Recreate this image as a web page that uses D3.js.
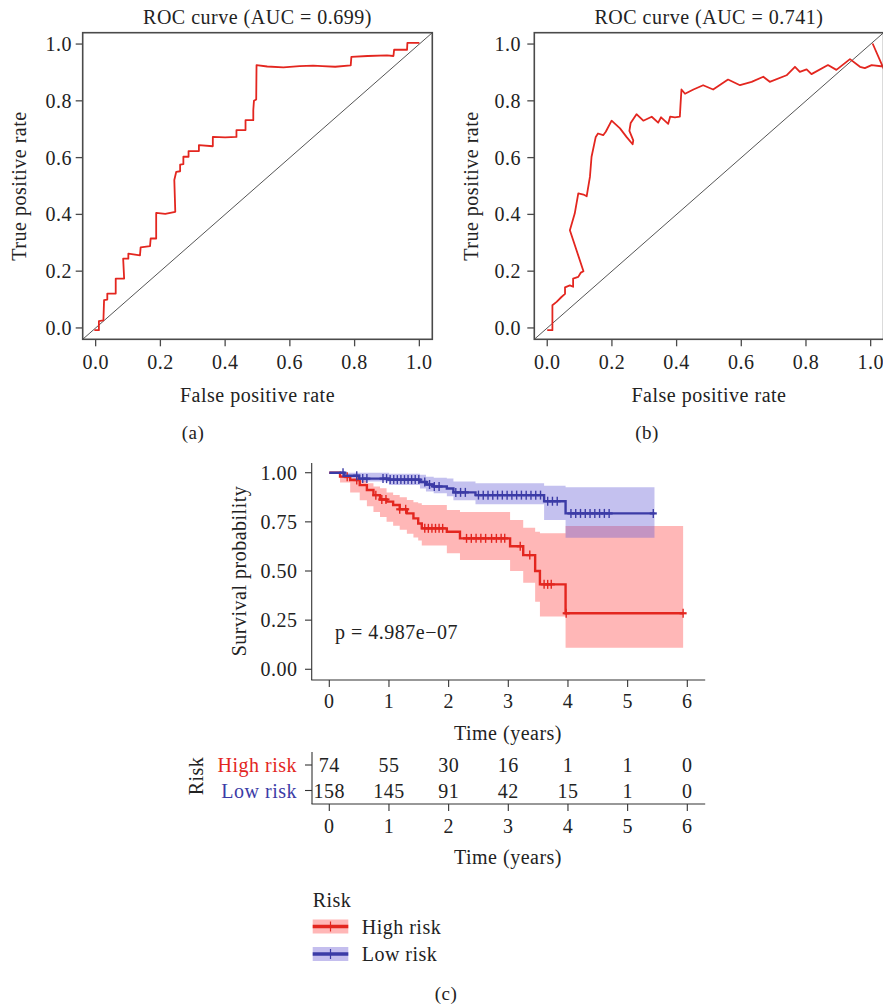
<!DOCTYPE html>
<html>
<head>
<meta charset="utf-8">
<script src="https://cdn.jsdelivr.net/npm/d3@7"></script>
<style>
  html, body { margin: 0; padding: 0; background: #fff; }
  svg text { font-family: "Liberation Serif", "Times New Roman", serif; fill: #222; letter-spacing: 0.5px; }
</style>
</head>
<body>
<svg id="chart" width="883" height="1006"></svg>
<script>
// ---------------- DATA ----------------
const rocTicks = [0, 0.2, 0.4, 0.6, 0.8, 1.0];
const rocTitleA = "ROC curve (AUC = 0.699)";
const rocTitleB = "ROC curve (AUC = 0.741)";

const rocA_fpr = [-0.004, 0.010, 0.010, 0.024, 0.026, 0.036, 0.036, 0.062, 0.062, 0.088, 0.085, 0.101, 0.101, 0.137, 0.139, 0.168, 0.170, 0.187, 0.187, 0.215, 0.246, 0.243, 0.249, 0.261, 0.261, 0.271, 0.271, 0.287, 0.287, 0.319, 0.319, 0.362, 0.362, 0.400, 0.435, 0.435, 0.463, 0.463, 0.487, 0.487, 0.489, 0.496, 0.497, 0.530, 0.580, 0.630, 0.672, 0.700, 0.740, 0.788, 0.790, 0.840, 0.900, 0.920, 0.922, 0.962, 0.963, 1.000];
const rocA_tpr = [-0.008, -0.008, 0.024, 0.027, 0.098, 0.100, 0.121, 0.121, 0.174, 0.174, 0.244, 0.244, 0.262, 0.256, 0.284, 0.288, 0.315, 0.315, 0.405, 0.402, 0.409, 0.521, 0.550, 0.552, 0.575, 0.577, 0.603, 0.603, 0.623, 0.623, 0.644, 0.640, 0.673, 0.671, 0.673, 0.697, 0.697, 0.732, 0.732, 0.767, 0.800, 0.805, 0.926, 0.921, 0.918, 0.922, 0.924, 0.922, 0.920, 0.925, 0.955, 0.958, 0.960, 0.958, 0.980, 0.980, 1.004, 1.004];

const rocB_fpr = [0.000, 0.016, 0.016, 0.029, 0.044, 0.055, 0.055, 0.070, 0.080, 0.080, 0.096, 0.104, 0.112, 0.070, 0.085, 0.096, 0.112, 0.122, 0.132, 0.137, 0.150, 0.157, 0.173, 0.181, 0.199, 0.225, 0.245, 0.264, 0.266, 0.254, 0.258, 0.276, 0.297, 0.323, 0.343, 0.352, 0.374, 0.380, 0.395, 0.410, 0.412, 0.415, 0.426, 0.452, 0.482, 0.513, 0.559, 0.596, 0.632, 0.668, 0.688, 0.740, 0.766, 0.781, 0.802, 0.817, 0.868, 0.894, 0.936, 0.967, 0.982, 1.003, 1.045, 1.045, 1.006];
const rocB_tpr = [-0.008, -0.008, 0.080, 0.092, 0.109, 0.120, 0.143, 0.150, 0.145, 0.174, 0.180, 0.195, 0.200, 0.344, 0.403, 0.474, 0.470, 0.464, 0.532, 0.603, 0.673, 0.685, 0.679, 0.691, 0.730, 0.703, 0.673, 0.647, 0.661, 0.694, 0.722, 0.753, 0.730, 0.744, 0.723, 0.742, 0.719, 0.744, 0.742, 0.744, 0.785, 0.840, 0.825, 0.840, 0.855, 0.840, 0.875, 0.855, 0.867, 0.885, 0.867, 0.890, 0.920, 0.902, 0.911, 0.894, 0.926, 0.909, 0.947, 0.920, 0.915, 0.926, 0.920, 0.900, 1.002];

// Kaplan-Meier: High risk
const highTimes = [0, 0.18, 0.35, 0.51, 0.63, 0.74, 0.85, 0.96, 1.07, 1.18, 1.30, 1.41, 1.49, 1.55, 1.97, 2.19, 3.03, 3.25, 3.45, 3.53, 3.96, 5.93];
const highSurv  = [1, 0.98, 0.963, 0.937, 0.912, 0.886, 0.864, 0.853, 0.836, 0.814, 0.793, 0.768, 0.742, 0.717, 0.700, 0.666, 0.626, 0.581, 0.500, 0.432, 0.285, 0.285];
const highUpper = [1, 0.99, 0.975, 0.96, 0.946, 0.93, 0.921, 0.90, 0.887, 0.875, 0.861, 0.85, 0.845, 0.836, 0.81, 0.80, 0.76, 0.72, 0.70, 0.692, 0.729, 0.729];
const highLower = [1, 0.95, 0.90, 0.86, 0.83, 0.80, 0.775, 0.75, 0.73, 0.71, 0.69, 0.67, 0.655, 0.63, 0.59, 0.556, 0.50, 0.44, 0.344, 0.268, 0.11, 0.11];
const highCensor = [0.30, 0.46, 0.78, 0.88, 0.95, 1.18, 1.28, 1.60, 1.66, 1.72, 1.78, 1.84, 1.90, 2.30, 2.38, 2.46, 2.54, 2.62, 2.72, 2.80, 2.88, 2.94, 3.20, 3.36, 3.60, 3.66, 3.72, 3.97, 5.93];

// Kaplan-Meier: Low risk
const lowTimes = [0, 0.25, 0.50, 1.00, 1.52, 1.62, 1.75, 1.97, 2.08, 2.45, 3.60, 3.96, 5.45];
const lowSurv  = [1, 0.985, 0.97, 0.965, 0.953, 0.94, 0.93, 0.92, 0.90, 0.886, 0.855, 0.793, 0.793];
const lowUpper = [1, 1, 1, 0.995, 0.99, 0.98, 0.975, 0.97, 0.955, 0.946, 0.934, 0.926, 0.926];
const lowLower = [1, 0.97, 0.955, 0.937, 0.92, 0.905, 0.895, 0.88, 0.86, 0.84, 0.76, 0.669, 0.669];
const lowCensor = [0.23, 0.46, 0.56, 0.63, 0.90, 0.96, 1.02, 1.08, 1.14, 1.20, 1.26, 1.32, 1.38, 1.44, 1.50, 1.60, 1.68, 1.76, 1.84, 2.12, 2.20, 2.28, 2.50, 2.58, 2.66, 2.74, 2.82, 2.90, 2.98, 3.06, 3.14, 3.22, 3.30, 3.38, 3.46, 3.54, 3.66, 3.74, 3.82, 4.05, 4.13, 4.21, 4.29, 4.37, 4.45, 4.53, 4.61, 4.69, 5.43];

const kmTicksX = [0, 1, 2, 3, 4, 5, 6];
const kmTicksY = [0, 0.25, 0.5, 0.75, 1.0];
const kmTickLabelsY = ["0.00", "0.25", "0.50", "0.75", "1.00"];
const pValueText = "p = 4.987e\u221207";

const riskGroups = ["High risk", "Low risk"];
const riskTimes = [0, 1, 2, 3, 4, 5, 6];
const riskHigh = [74, 55, 30, 16, 1, 1, 0];
const riskLow = [158, 145, 91, 42, 15, 1, 0];

// ---------------- STYLE ----------------
const FS = 20;
const RED = "#E3261F";
const BLUE = "#3B3BA6";
const RED_FILL = "#FFB7B7";
const BLUE_FILL = "rgba(100,92,214,0.38)";
const AXIS = "#333";

const svg = d3.select("#chart");

function txt(g, x, y, s, opts = {}) {
  const t = g.append("text").attr("x", x).attr("y", y).text(s)
    .attr("font-size", opts.size || FS)
    .attr("text-anchor", opts.anchor || "middle")
    .attr("dominant-baseline", "central");
  if (opts.fill) t.style("fill", opts.fill);
  if (opts.rotate) t.attr("transform", `rotate(-90,${x},${y})`);
  return t;
}

// ---------------- ROC PANELS ----------------
function rocPanel(left, right, fpr, tpr, title, tickLabelRight, ylabelX, subLabel, subX) {
  const top = 32.7, bottom = 339.3;
  const x = d3.scaleLinear().domain([-0.04, 1.04]).range([left, right]);
  const y = d3.scaleLinear().domain([-0.04, 1.04]).range([bottom, top]);
  const g = svg.append("g");
  const clipId = "clip" + Math.round(left);
  g.append("clipPath").attr("id", clipId).append("rect")
    .attr("x", left).attr("y", top).attr("width", right - left).attr("height", bottom - top);

  // diagonal
  g.append("line").attr("x1", x(-0.04)).attr("y1", y(-0.04)).attr("x2", x(1.04)).attr("y2", y(1.04))
    .attr("stroke", "#555").attr("stroke-width", 1);

  const pts = fpr.map((d, i) => [d, tpr[i]]);
  g.append("path").datum(pts)
    .attr("d", d3.line().x(d => x(d[0])).y(d => y(d[1])))
    .attr("fill", "none").attr("stroke", RED).attr("stroke-width", 1.8)
    .attr("stroke-linejoin", "round")
    .attr("clip-path", `url(#${clipId})`);

  // box
  g.append("rect").attr("x", left).attr("y", top).attr("width", right - left).attr("height", bottom - top)
    .attr("fill", "none").attr("stroke", "#4a4a4a").attr("stroke-width", 1.6);

  // ticks
  rocTicks.forEach(v => {
    g.append("line").attr("x1", x(v)).attr("x2", x(v)).attr("y1", bottom).attr("y2", bottom + 7)
      .attr("stroke", "#4a4a4a").attr("stroke-width", 1.3);
    txt(g, x(v), 362, v.toFixed(1));
    g.append("line").attr("y1", y(v)).attr("y2", y(v)).attr("x1", left).attr("x2", left - 7)
      .attr("stroke", "#4a4a4a").attr("stroke-width", 1.3);
    txt(g, tickLabelRight, y(v), v.toFixed(1), { anchor: "end" });
  });

  txt(g, (left + right) / 2, 17, title);
  txt(g, (left + right) / 2, 395, "False positive rate");
  txt(g, ylabelX, (top + bottom) / 2, "True positive rate", { rotate: true });
  txt(g, subX, 432, subLabel, { size: 19 });
}

rocPanel(82.7, 432.3, rocA_fpr, rocA_tpr, rocTitleA, 72, 19, "(a)", 193);
rocPanel(534.3, 883.6, rocB_fpr, rocB_tpr, rocTitleB, 521, 471, "(b)", 647);

// ---------------- KM PANEL ----------------
const kx = d3.scaleLinear().domain([-0.3, 6.3]).range([311.4, 705.2]);
const ky = d3.scaleLinear().domain([-0.05, 1.05]).range([679.1, 462.9]);
const km = svg.append("g");

function band(times, lo, hi, fill) {
  const data = times.map((t, i) => ({ t, lo: lo[i], hi: hi[i] }));
  km.append("path").datum(data)
    .attr("d", d3.area().curve(d3.curveStepAfter).x(d => kx(d.t)).y0(d => ky(d.lo)).y1(d => ky(d.hi)))
    .attr("fill", fill).attr("stroke", "none");
}
band(highTimes, highLower, highUpper, RED_FILL);
band(lowTimes, lowLower, lowUpper, BLUE_FILL);

function stepValue(times, surv, t) {
  let v = surv[0];
  for (let i = 0; i < times.length; i++) if (times[i] <= t) v = surv[i];
  return v;
}
function curve(times, surv, censor, color) {
  const data = times.map((t, i) => [t, surv[i]]);
  km.append("path").datum(data)
    .attr("d", d3.line().curve(d3.curveStepAfter).x(d => kx(d[0])).y(d => ky(d[1])))
    .attr("fill", "none").attr("stroke", color).attr("stroke-width", 2.4);
  censor.forEach(c => {
    const yy = ky(stepValue(times, surv, c));
    km.append("line").attr("x1", kx(c)).attr("x2", kx(c)).attr("y1", yy - 4.5).attr("y2", yy + 4.5)
      .attr("stroke", color).attr("stroke-width", 1.4);
    km.append("line").attr("x1", kx(c) - 3.5).attr("x2", kx(c) + 3.5).attr("y1", yy).attr("y2", yy)
      .attr("stroke", color).attr("stroke-width", 2.2);
  });
}
curve(highTimes, highSurv, highCensor, RED);
curve(lowTimes, lowSurv, lowCensor, BLUE);

// axes
km.append("line").attr("x1", 311.7).attr("x2", 311.7).attr("y1", 463).attr("y2", 680).attr("stroke", AXIS).attr("stroke-width", 1.1);
km.append("line").attr("x1", 311.2).attr("x2", 705.2).attr("y1", 680).attr("y2", 680).attr("stroke", AXIS).attr("stroke-width", 1.1);
kmTicksY.forEach((v, i) => {
  km.append("line").attr("x1", 305).attr("x2", 311.7).attr("y1", ky(v)).attr("y2", ky(v)).attr("stroke", AXIS).attr("stroke-width", 1.1);
  txt(km, 297.5, ky(v), kmTickLabelsY[i], { anchor: "end" });
});
kmTicksX.forEach(v => {
  km.append("line").attr("x1", kx(v)).attr("x2", kx(v)).attr("y1", 680).attr("y2", 687).attr("stroke", AXIS).attr("stroke-width", 1.1);
  txt(km, kx(v), 701, String(v));
});
txt(km, 508, 733, "Time (years)");
txt(km, 239, 571, "Survival probability", { rotate: true });
txt(km, 335, 632, pValueText, { anchor: "start" });

// ---------------- RISK TABLE ----------------
const rt = svg.append("g");
const rowY = [765, 790.5];
const rowVals = [riskHigh, riskLow];
const rowColors = [RED, BLUE];
rt.append("line").attr("x1", 312).attr("x2", 312).attr("y1", 752).attr("y2", 804).attr("stroke", AXIS).attr("stroke-width", 1.1);
rt.append("line").attr("x1", 311.5).attr("x2", 705.2).attr("y1", 804).attr("y2", 804).attr("stroke", AXIS).attr("stroke-width", 1.1);
riskGroups.forEach((grp, r) => {
  rt.append("line").attr("x1", 305).attr("x2", 312).attr("y1", rowY[r]).attr("y2", rowY[r]).attr("stroke", AXIS).attr("stroke-width", 1.1);
  txt(rt, 297, rowY[r], grp, { anchor: "end", fill: rowColors[r] });
  riskTimes.forEach((t, i) => txt(rt, kx(t), rowY[r], String(rowVals[r][i])));
});
riskTimes.forEach(t => {
  rt.append("line").attr("x1", kx(t)).attr("x2", kx(t)).attr("y1", 804).attr("y2", 811).attr("stroke", AXIS).attr("stroke-width", 1.1);
  txt(rt, kx(t), 826, String(t));
});
txt(rt, 508, 857, "Time (years)");
txt(rt, 196, 776, "Risk", { rotate: true });

// ---------------- LEGEND ----------------
const lg = svg.append("g");
txt(lg, 312.7, 900, "Risk", { anchor: "start" });
const legendItems = [
  { label: riskGroups[0], fill: RED_FILL, color: RED, y: 926.5 },
  { label: riskGroups[1], fill: "#C4BEEE", color: BLUE, y: 954 }
];
legendItems.forEach(it => {
  lg.append("rect").attr("x", 312.7).attr("y", it.y - 7).attr("width", 35.6).attr("height", 14).attr("fill", it.fill);
  lg.append("line").attr("x1", 312.7).attr("x2", 348.3).attr("y1", it.y).attr("y2", it.y).attr("stroke", it.color).attr("stroke-width", 3.5);
  lg.append("line").attr("x1", 330.5).attr("x2", 330.5).attr("y1", it.y - 5).attr("y2", it.y + 5).attr("stroke", it.color).attr("stroke-width", 1.2);
  txt(lg, 361.7, it.y, it.label, { anchor: "start" });
});
txt(lg, 446, 993, "(c)", { size: 19 });
</script>
</body>
</html>
